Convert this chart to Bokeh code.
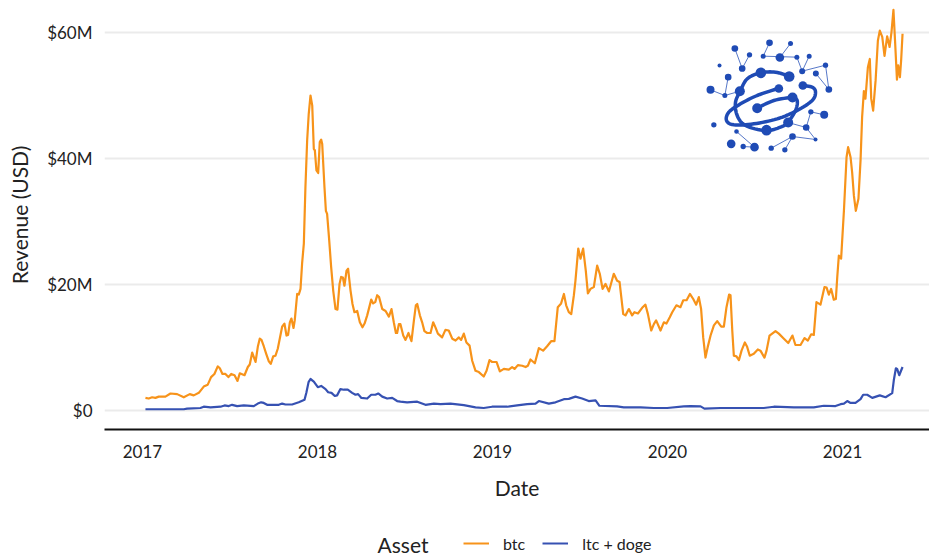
from bokeh.plotting import figure
from bokeh.layouts import column
from bokeh.models import Legend, LegendItem, FixedTicker, Range1d, Label
from bokeh.embed import file_html
from bokeh.resources import INLINE

# Years since the start of 2017, revenue in millions of USD
btc_t = [.017,.036,.055,.074,.093,.131,.160,.198,.236,.270,.293,.322,.350,.373,.392,.411,.430,.442,.457,.474,.491,.507,.526,.543,.556,.583,.602,.613,.627,.646,.659,.670,.680,.693,.707,.722,.733,.747,.760,.773,.798,.811,.823,.832,.842,.851,.863,.870,.884,.893,.903,.912,.922,.931,.941,.950,.960,.970,.979,.985,.994,1.004,1.013,1.021,1.027,1.040,1.048,1.055,1.067,1.078,1.090,1.103,1.114,1.126,1.135,1.145,1.154,1.166,1.175,1.189,1.200,1.211,1.227,1.242,1.257,1.269,1.284,1.307,1.318,1.330,1.341,1.352,1.370,1.389,1.408,1.423,1.436,1.448,1.455,1.465,
1.474,1.490,1.503,1.520,1.537,1.551,1.562,1.570,1.585,1.598,1.611,1.627,1.646,1.661,1.674,1.688,1.712,1.731,1.750,1.770,1.789,1.808,1.821,1.836,1.851,1.869,1.884,1.903,1.922,1.950,1.966,1.983,1.998,2.023,2.042,2.065,2.093,2.112,2.126,2.145,2.170,2.189,2.202,2.217,2.242,2.265,2.289,2.312,2.335,2.354,2.373,2.392,2.408,2.421,2.436,2.450,2.465,2.474,2.490,2.503,2.518,2.533,2.545,2.560,2.579,2.598,2.613,2.629,2.646,2.665,2.693,2.712,2.726,2.747,2.760,2.779,2.798,2.811,2.831,2.855,2.874,2.888,2.907,2.922,2.935,2.960,2.979,2.994,3.013,3.027,3.051,
3.074,3.090,3.109,3.128,3.147,3.164,3.179,3.192,3.204,3.217,3.230,3.246,3.265,3.284,3.307,3.322,3.337,3.352,3.360,3.370,3.379,3.394,3.408,3.423,3.442,3.455,3.470,3.493,3.516,3.531,3.554,3.566,3.583,3.617,3.636,3.665,3.690,3.714,3.731,3.760,3.783,3.802,3.821,3.836,3.851,3.874,3.897,3.909,3.922,3.935,3.950,3.962,3.970,3.979,3.992,4.008,4.023,4.032,4.046,4.055,4.065,4.076,4.091,4.103,4.112,4.122,4.131,4.145,4.156,4.164,4.175,4.189,4.202,4.213,4.227,4.240,4.255,4.269,4.280,4.291,4.301,4.311,4.318,4.328,4.335,4.343]
btc_v = [2.0,1.9,2.1,2.0,2.2,2.2,2.7,2.6,2.1,2.6,2.4,2.8,3.8,4.1,5.3,5.8,7.0,6.7,5.8,5.8,5.3,5.8,5.6,4.7,5.9,5.6,6.9,7.3,9.2,7.7,10.1,11.4,11.2,10.2,9.0,7.8,7.4,8.6,8.7,9.8,13.3,13.8,11.9,12.0,14.0,14.6,13.1,14.3,18.5,18.4,19.3,23.3,26.5,35.4,42.9,47.1,50.0,48.4,41.5,41.3,38.1,37.7,42.6,43.0,42.3,35.4,31.7,31.2,27.0,22.8,19.0,16.1,16.0,20.1,21.2,21.1,19.8,22.2,22.5,19.0,16.9,15.6,15.8,14.0,13.2,13.8,15.1,17.6,17.0,17.2,18.3,18.0,16.1,15.8,14.9,16.1,14.0,12.3,12.3,13.7,
13.7,11.9,11.2,12.3,11.0,14.3,16.7,16.9,15.1,14.0,12.6,12.3,12.3,14.0,13.2,12.2,11.6,12.8,12.7,11.4,11.1,11.6,11.2,12.2,10.8,10.3,7.9,6.3,6.1,5.4,6.3,8.0,7.7,7.7,6.2,6.6,6.5,6.9,6.6,7.2,7.1,6.9,7.1,8.1,7.5,9.9,9.5,10.2,11.0,11.0,16.4,17.0,18.5,16.7,15.6,15.3,18.3,20.6,25.7,24.1,25.7,22.2,18.6,19.3,19.6,23.0,21.7,19.3,20.1,18.9,21.7,20.6,20.4,15.3,15.1,16.1,15.1,15.6,15.4,16.3,16.8,15.3,12.7,13.7,14.3,12.7,14.0,13.8,14.8,15.6,16.7,
16.4,17.5,17.5,18.5,17.7,16.8,18.0,16.1,11.6,8.4,10.1,11.9,13.5,14.2,13.3,13.3,16.4,18.4,18.3,12.7,8.7,8.6,8.0,9.5,10.8,10.1,8.7,9.0,9.7,9.5,8.4,9.5,11.9,12.6,12.2,11.4,10.7,11.9,10.4,10.4,11.5,11.1,12.1,12.0,17.2,16.8,19.6,19.5,18.4,19.3,17.6,17.7,21.2,24.6,24.1,31.7,40.2,41.8,40.2,37.8,34.1,31.7,33.6,39.7,46.6,50.7,49.5,54.5,55.8,49.5,47.6,52.4,58.7,60.3,59.3,56.3,59.4,57.7,60.1,63.6,58.2,52.5,54.8,52.9,55.6,59.8]

ltc_t = [.017,.236,.255,.331,.350,.389,.446,.469,.493,.512,.541,.579,.636,.659,.678,.693,.712,.750,.779,.798,.817,.855,.893,.926,.937,.949,.960,.979,1.002,1.021,1.046,1.061,1.080,1.099,1.112,1.131,1.150,1.173,1.198,1.217,1.232,1.251,1.284,1.307,1.331,1.347,1.370,1.398,1.427,1.455,
1.474,1.512,1.570,1.617,1.665,1.703,1.760,1.836,1.903,1.950,1.998,2.084,2.141,2.198,2.246,2.265,2.322,2.360,2.408,2.436,2.474,2.512,2.550,2.589,2.611,2.712,2.750,2.846,2.922,2.998,3.093,
3.131,3.189,3.211,3.303,3.550,3.608,3.722,3.836,3.893,3.960,3.989,4.008,4.027,4.046,4.074,4.103,4.118,4.141,4.170,4.213,4.246,4.284,4.293,4.305,4.312,4.324,4.343]
ltc_v = [.2,.2,.3,.4,.6,.5,.6,.8,.7,.9,.7,.8,.7,1.1,1.3,1.2,.9,.9,.9,1.1,.95,.95,1.3,1.7,2.9,4.5,5.0,4.6,3.7,3.9,3.4,2.9,2.8,2.3,2.4,3.4,3.3,3.3,2.8,2.5,2.6,2.0,1.9,2.5,2.5,2.7,2.2,1.9,2.0,1.5,
1.4,1.3,1.4,.9,1.1,1.0,1.1,.85,.5,.4,.6,.6,.8,1.0,1.1,1.5,1.1,1.3,1.8,1.85,2.2,1.9,1.5,1.6,.75,.65,.5,.5,.4,.4,.65,
.7,.65,.3,.4,.4,.6,.5,.5,.75,.7,1.0,1.1,1.5,1.2,1.2,1.8,2.5,2.5,2.0,2.4,2.1,2.75,4.8,6.7,6.6,5.6,6.9]

year_ticks = [2017, 2018, 2019, 2020, 2021]
revenue_ticks = [0, 20, 40, 60]
revenue_labels = ["$0", "$20M", "$40M", "$60M"]

# Logo artwork, in its own drawing units (3 units = 1 px)
logo_nodes = [(163,144,20),(207,163,16),(185,204,20),(117,195,12),(143,230,20),(90,268,24),(133,285,15),(178,272,30),(267,127,20),(330,129,15),(248,167,15),(298,171,26),(349,170,15),(386,167,15),(365,212,18),(435,194,16),(406,219,18),(445,267,20),(241,217,32),(326,228,32),(295,264,26),(367,255,26),(336,291,30),(230,323,30),(323,366,30),(258,389,32),(100,373,16),(168,393,14),(152,430,26),(188,438,16),(222,440,26),(272,443,16),(313,448,16),(336,408,20),(377,381,20),(405,417,12),(391,334,16),(431,343,24)]
logo_links = [[(163,144),(185,204)],[(207,163),(185,204)],[(143,230),(133,285)],[(90,268),(133,285)],[(133,285),(178,272)],[(267,127),(248,167)],[(330,129),(298,171)],[(248,167),(349,170)],[(349,170),(365,212)],[(386,167),(365,212)],[(365,212),(435,194)],[(435,194),(445,267)],[(406,219),(445,267)],[(168,393),(222,440)],[(188,438),(222,440)],[(272,443),(336,408)],[(313,448),(336,408)],[(336,408),(405,417)],[(377,381),(405,417)],[(323,366),(377,381)],[(377,381),(391,334)],[(391,334),(431,343)]]
logo_strokes = [
    [(180,270),(200,235),(240,217),(285,215),(325,227)],
    [(180,270),(165,305),(170,345),(195,375),(255,390),(300,380),(322,365),(345,330),(350,300),(335,290)],
    [(365,255),(395,260),(405,275),(395,300),(350,330),(290,355),(220,370),(160,373),(138,360),(145,335),(180,310),(230,285),(295,263)],
    [(230,323),(280,300),(335,290)],
]

def logo_x(u):
    return 2017 + (680 + u / 3 - 142) / 175

def logo_y(u):
    return (410 - u / 3) / 6.3

def smooth(stroke, steps=8):
    # Catmull-Rom rounding of a logo stroke
    pts = [stroke[0]] + stroke + [stroke[-1]]
    out = []
    for i in range(1, len(pts) - 2):
        p0, p1, p2, p3 = pts[i - 1], pts[i], pts[i + 1], pts[i + 2]
        for k in range(steps):
            s = k / steps
            out.append(tuple(
                0.5 * (2 * p1[d] + (p2[d] - p0[d]) * s
                       + (2 * p0[d] - 5 * p1[d] + 4 * p2[d] - p3[d]) * s ** 2
                       + (3 * p1[d] - p0[d] - 3 * p2[d] + p3[d]) * s ** 3)
                for d in (0, 1)))
    out.append(stroke[-1])
    return out

BTC = "#f7931a"
LTC = "#3651b2"
LOGO = "#1f4bb5"
TEXT = "#222222"

p = figure(width=929, height=510, output_backend="svg", toolbar_location=None,
           x_range=Range1d(2016.783, 2021.497), y_range=Range1d(-3.016, 65.08),
           min_border_left=104, min_border_right=0, min_border_top=0, min_border_bottom=81)
p.outline_line_color = None
p.background_fill_color = "white"

p.xgrid.visible = False
p.ygrid.grid_line_color = "#ebebeb"
p.ygrid.grid_line_width = 2
p.ygrid.ticker = FixedTicker(ticks=revenue_ticks)

xa = p.xaxis[0]
xa.ticker = FixedTicker(ticks=year_ticks)
xa.major_label_overrides = {y: str(y) for y in year_ticks}
xa.axis_label = "Date"
xa.axis_line_color = "#111111"
xa.axis_line_width = 2
xa.major_tick_line_color = None
xa.minor_tick_line_color = None
xa.major_tick_out = 0
xa.major_tick_in = 0
xa.major_label_text_font = "Lato"
xa.major_label_text_font_size = "17px"
xa.major_label_text_color = TEXT
xa.major_label_standoff = 15
xa.axis_label_text_font = "Lato"
xa.axis_label_text_font_size = "21px"
xa.axis_label_text_font_style = "normal"
xa.axis_label_text_color = TEXT
xa.axis_label_standoff = 14

ya = p.yaxis[0]
ya.ticker = FixedTicker(ticks=revenue_ticks)
ya.major_label_overrides = dict(zip(revenue_ticks, revenue_labels))
ya.axis_label = "Revenue (USD)"
ya.axis_line_color = None
ya.major_tick_line_color = None
ya.minor_tick_line_color = None
ya.major_tick_out = 0
ya.major_tick_in = 0
ya.major_label_text_font = "Lato"
ya.major_label_text_font_size = "17px"
ya.major_label_text_color = TEXT
ya.major_label_standoff = 12
ya.axis_label_text_font = "Lato"
ya.axis_label_text_font_size = "21px"
ya.axis_label_text_font_style = "normal"
ya.axis_label_text_color = TEXT
ya.axis_label_standoff = 12

p.line([2017 + t for t in btc_t], btc_v, line_color=BTC, line_width=2.2, line_join="round")
p.line([2017 + t for t in ltc_t], ltc_v, line_color=LTC, line_width=2.2, line_join="round")

p.multi_line([[logo_x(a), logo_x(b)] for (a, _), (b, _) in logo_links],
             [[logo_y(a), logo_y(b)] for (_, a), (_, b) in logo_links],
             line_color=LOGO, line_width=1, line_alpha=0.75)
smooth_strokes = [smooth(s) for s in logo_strokes]
p.multi_line([[logo_x(a) for a, _ in s] for s in smooth_strokes],
             [[logo_y(b) for _, b in s] for s in smooth_strokes],
             line_color=LOGO, line_width=3.5, line_join="round", line_cap="round")
p.scatter([logo_x(n[0]) for n in logo_nodes], [logo_y(n[1]) for n in logo_nodes],
          size=[n[2] / 3 for n in logo_nodes], marker="circle",
          fill_color=LOGO, line_color=None)

# Legend strip under the chart
key = figure(width=929, height=44, output_backend="svg", toolbar_location=None,
             x_range=Range1d(0, 1), y_range=Range1d(0, 1),
             min_border_left=0, min_border_right=0, min_border_top=0, min_border_bottom=0)
key.axis.visible = False
key.grid.visible = False
key.outline_line_color = None
k_btc = key.line([2, 3], [2, 3], line_color=BTC, line_width=2)
k_ltc = key.line([2, 3], [2, 3], line_color=LTC, line_width=2)
legend = Legend(items=[LegendItem(label="btc", renderers=[k_btc]),
                       LegendItem(label="ltc + doge", renderers=[k_ltc])],
                orientation="horizontal", location=(359, 1),
                border_line_color=None, background_fill_alpha=0,
                label_text_font="Lato", label_text_font_size="16px", label_text_color=TEXT,
                glyph_width=26, spacing=17, label_standoff=14, margin=0, padding=0)
key.add_layout(legend, "center")
key.add_layout(Label(x=273, y=10, x_units="screen", y_units="screen", text="Asset",
                     text_font="Lato", text_font_size="21px", text_color=TEXT,
                     text_align="left", text_baseline="middle"))

open("out.html", "w").write(file_html(column(p, key, spacing=0), INLINE))
